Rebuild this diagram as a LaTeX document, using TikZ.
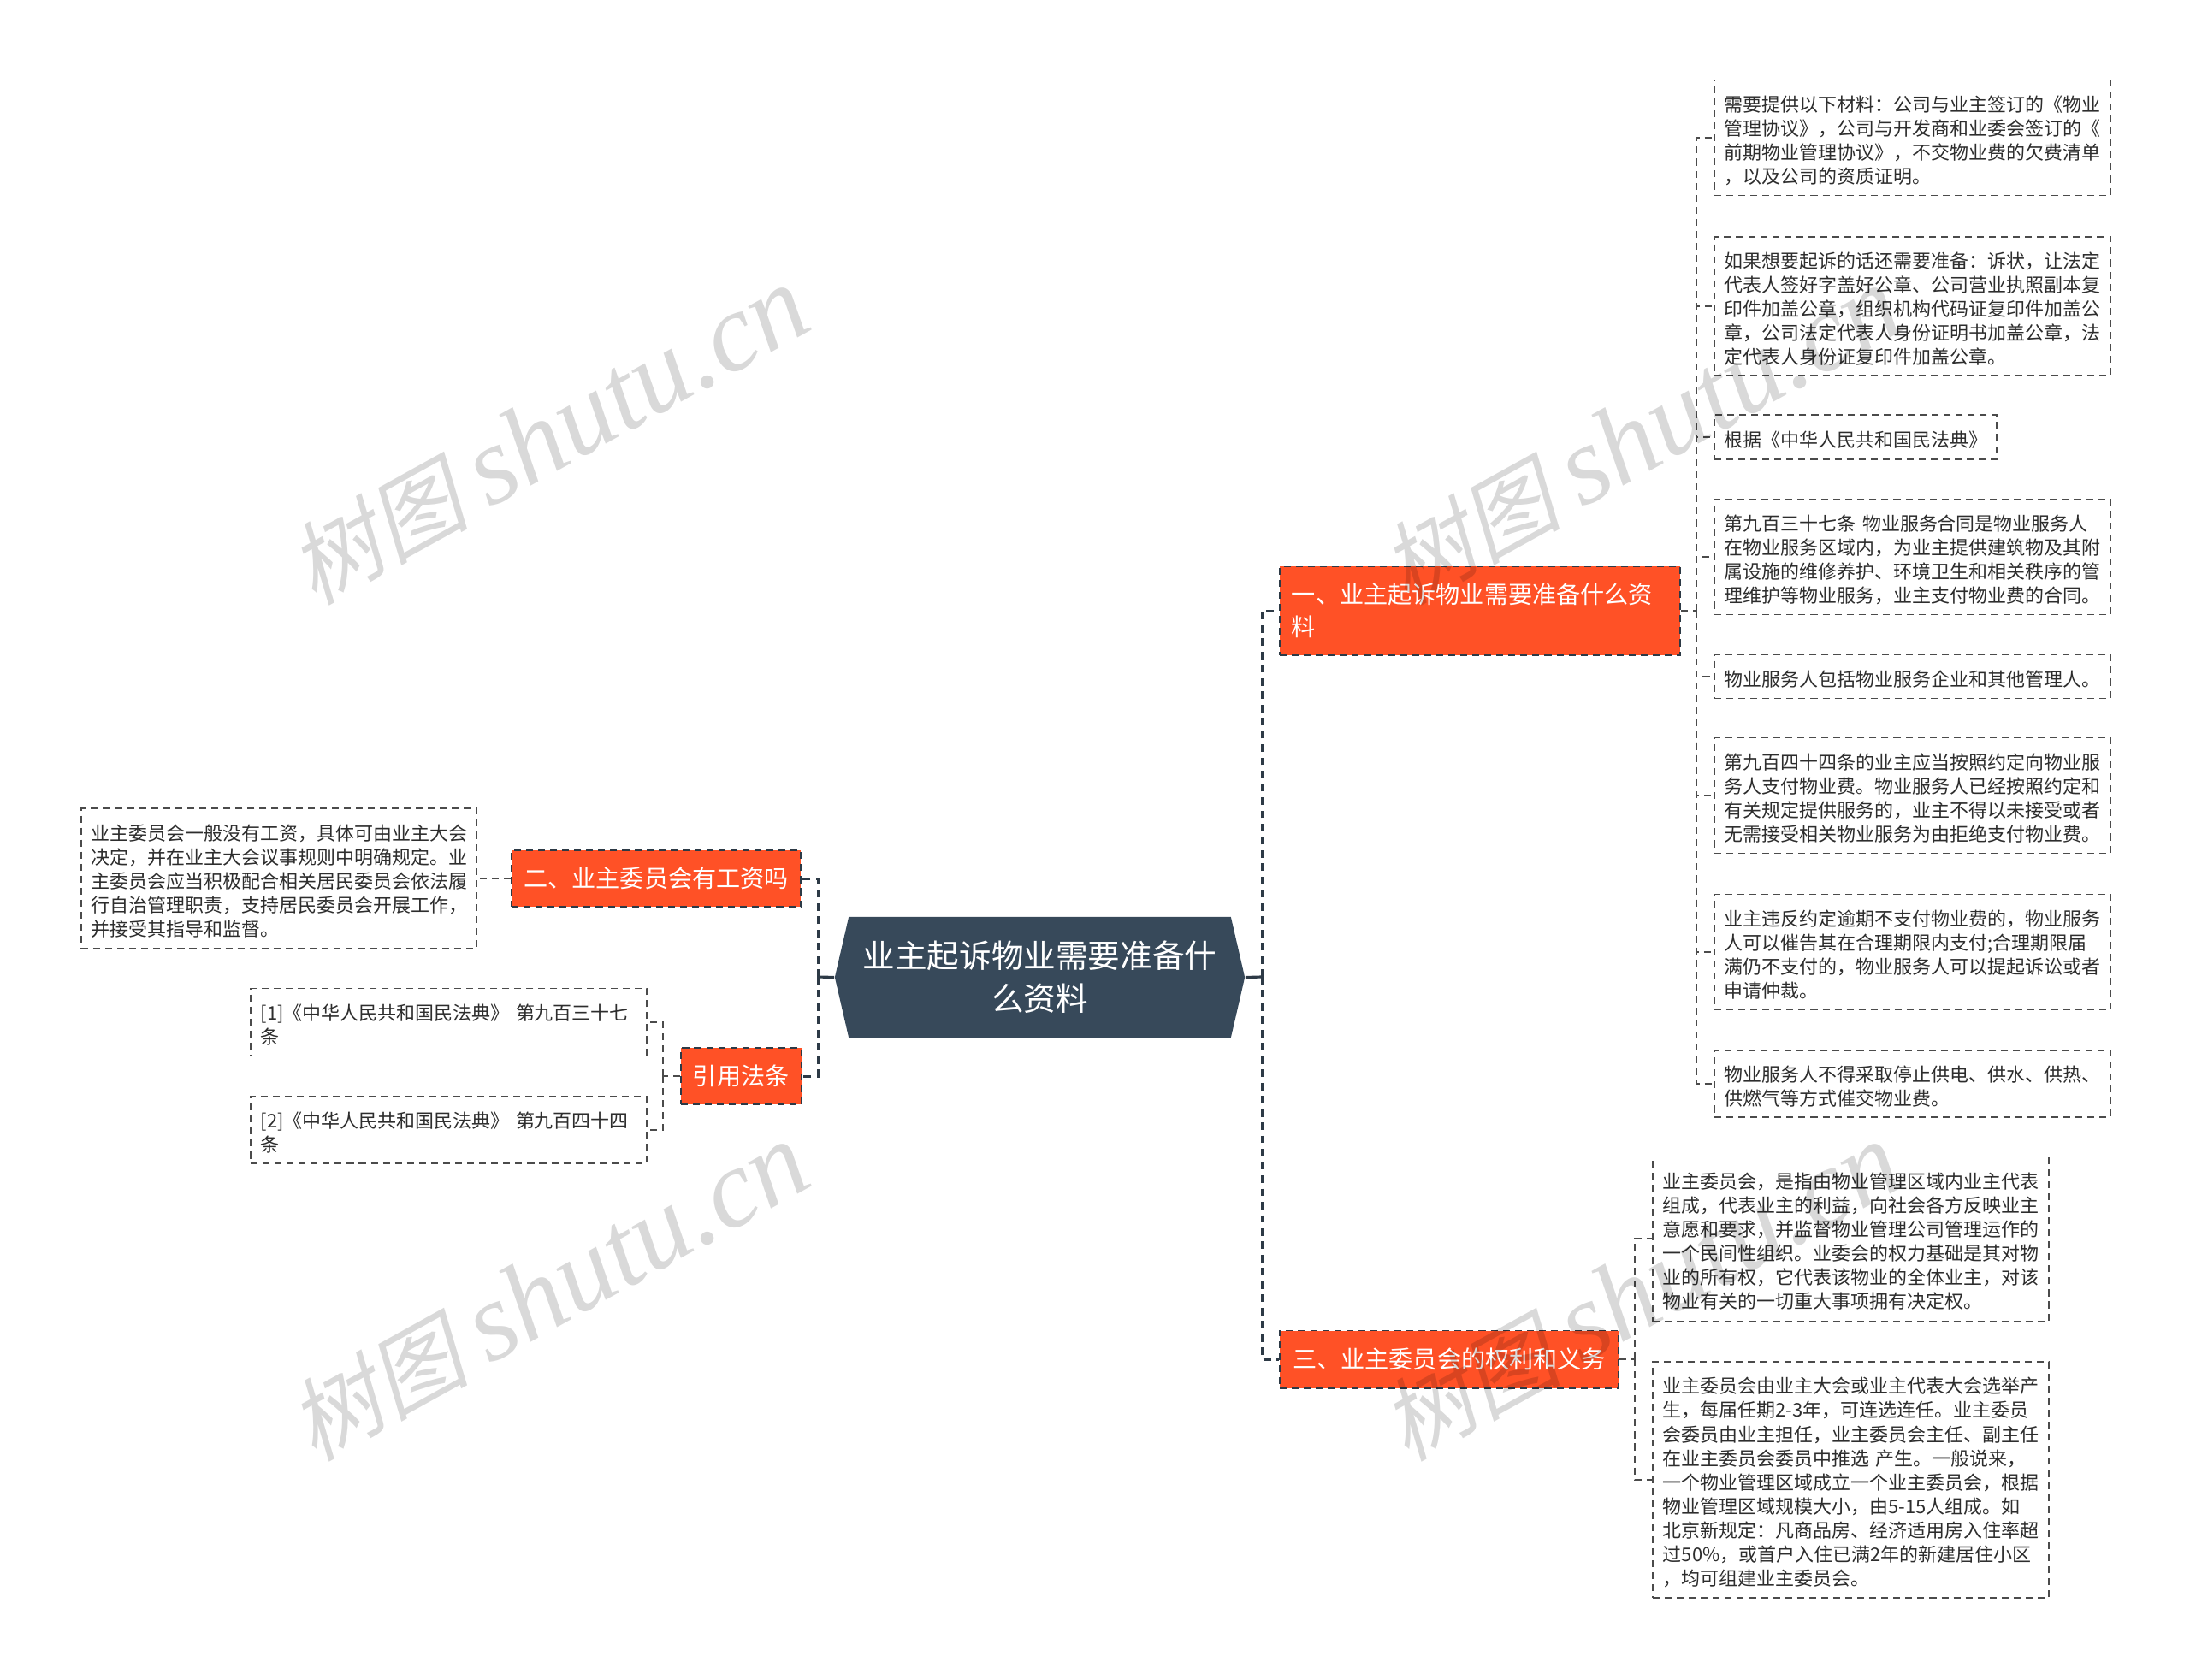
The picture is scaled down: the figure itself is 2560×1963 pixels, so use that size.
\documentclass[tikz,border=0pt]{standalone}
\usepackage{fontspec}
\setmainfont{Noto Sans CJK SC}
\newfontfamily\markcjk[FakeSlant=.22]{Noto Sans CJK SC}
\newfontfamily\marklatin{Liberation Serif}
\definecolor{rootfill}{RGB}{55, 73, 90}
\definecolor{branchfill}{RGB}{255, 81, 38}
\definecolor{linecolour}{RGB}{45, 58, 70}
\definecolor{factline}{RGB}{75, 75, 75}
\definecolor{facttext}{RGB}{45, 45, 45}
\usetikzlibrary{shapes.symbols}
\tikzset{
    rootbox/.style={signal, signal to=east and west, signal pointer angle=154,
        fill=rootfill, text=white, inner sep=0pt, minimum width=4.79cm,
        minimum height=1.41cm, align=center,
        font=\fontsize{10.7}{14.2}\selectfont},
    branchbox/.style={draw=linecolour, fill=branchfill, text=white, line width=.55pt,
        dash pattern=on 2.3pt off 1.7pt, anchor=west, inner xsep=.14cm,
        inner ysep=0pt, align=left, font=\fontsize{8}{10.9}\selectfont},
    factbox/.style={draw=factline, line width=.5pt, dash pattern=on 2.3pt off 1.7pt,
        anchor=west, inner xsep=.12cm, inner ysep=0pt, align=left, text=facttext,
        execute at begin node={\rule{0pt}{7.1pt}},
        font=\fontsize{6.25}{8}\selectfont},
    stemlink/.style={draw=linecolour, line width=.9pt},
    branchlink/.style={draw=linecolour, line width=.85pt, dash pattern=on 2.5pt off 1.9pt},
    factlink/.style={draw=factline, line width=.5pt, dash pattern=on 2.3pt off 1.7pt},
}

\begin{document}
\begin{tikzpicture}[x=.01cm, y=-.01cm]
    \useasboundingbox (0, 0) rectangle (2560, 1963);
    \node[rootbox] (root) at (1215.5, 1142.5) {业主起诉物业需要准备什\\么资料};

    \coordinate (busright) at (1475, 1142);
    \coordinate (busleft) at (956, 1142);
    \coordinate (busone) at (1983, 714);
    \coordinate (busthree) at (1911, 1589);
    \coordinate (buscite) at (775, 1258);

    \node[branchbox, minimum width=4.68cm, minimum height=1.03cm, text width=4.4cm]
        (branchone) at (1495, 714) {一、业主起诉物业需要准备什么资\\料};
    \node[branchbox, minimum width=3.96cm, minimum height=.67cm] (branchthree)
        at (1495, 1589) {三、业主委员会的权利和义务};
    \node[branchbox, minimum width=3.38cm, minimum height=.66cm] (branchtwo)
        at (597, 1027) {二、业主委员会有工资吗};
    \node[branchbox, minimum width=1.4cm, minimum height=.66cm] (branchcite)
        at (795, 1258) {引用法条};

    \node[factbox, minimum height=1.35cm, text width=4.39cm] (factone) at (2003, 161)
        {需要提供以下材料：公司与业主签订的《物业\\管理协议》，公司与开发商和业委会签订的《\\前期物业管理协议》，不交物业费的欠费清单\\，以及公司的资质证明。};
    \node[factbox, minimum height=1.62cm, text width=4.39cm] (facttwo) at (2003, 358)
        {如果想要起诉的话还需要准备：诉状，让法定\\代表人签好字盖好公章、公司营业执照副本复\\印件加盖公章，组织机构代码证复印件加盖公\\章，公司法定代表人身份证明书加盖公章，法\\定代表人身份证复印件加盖公章。};
    \node[factbox, minimum height=.52cm, text width=3.06cm] (factthree) at (2003, 511)
        {根据《中华人民共和国民法典》};
    \node[factbox, minimum height=1.35cm, text width=4.39cm] (factfour) at (2003, 651)
        {第九百三十七条 物业服务合同是物业服务人\\在物业服务区域内，为业主提供建筑物及其附\\属设施的维修养护、环境卫生和相关秩序的管\\理维护等物业服务，业主支付物业费的合同。};
    \node[factbox, minimum height=.51cm, text width=4.39cm] (factfive) at (2003, 791)
        {物业服务人包括物业服务企业和其他管理人。};
    \node[factbox, minimum height=1.35cm, text width=4.39cm] (factsix) at (2003, 930)
        {第九百四十四条的业主应当按照约定向物业服\\务人支付物业费。物业服务人已经按照约定和\\有关规定提供服务的，业主不得以未接受或者\\无需接受相关物业服务为由拒绝支付物业费。};
    \node[factbox, minimum height=1.35cm, text width=4.39cm] (factseven) at (2003, 1113)
        {业主违反约定逾期不支付物业费的，物业服务\\人可以催告其在合理期限内支付;合理期限届\\满仍不支付的，物业服务人可以提起诉讼或者\\申请仲裁。};
    \node[factbox, minimum height=.78cm, text width=4.39cm] (facteight) at (2003, 1267)
        {物业服务人不得采取停止供电、供水、供热、\\供燃气等方式催交物业费。};

    \node[factbox, minimum height=1.93cm, text width=4.39cm] (rightsone) at (1931, 1448)
        {业主委员会，是指由物业管理区域内业主代表\\组成，代表业主的利益，向社会各方反映业主\\意愿和要求，并监督物业管理公司管理运作的\\一个民间性组织。业委会的权力基础是其对物\\业的所有权，它代表该物业的全体业主，对该\\物业有关的一切重大事项拥有决定权。};
    \node[factbox, minimum height=2.76cm, text width=4.39cm] (rightstwo) at (1931, 1730)
        {业主委员会由业主大会或业主代表大会选举产\\生，每届任期2-3年，可连选连任。业主委员\\会委员由业主担任，业主委员会主任、副主任\\在业主委员会委员中推选 产生。一般说来，\\一个物业管理区域成立一个业主委员会，根据\\物业管理区域规模大小，由5-15人组成。如\\北京新规定：凡商品房、经济适用房入住率超\\过50\%，或首户入住已满2年的新建居住小区\\，均可组建业主委员会。};

    \node[factbox, minimum height=1.64cm, text width=4.38cm] (wagefact) at (94, 1027)
        {业主委员会一般没有工资，具体可由业主大会\\决定，并在业主大会议事规则中明确规定。业\\主委员会应当积极配合相关居民委员会依法履\\行自治管理职责，支持居民委员会开展工作，\\并接受其指导和监督。};
    \node[factbox, minimum height=.79cm, text width=4.39cm] (citeone) at (292, 1195)
        {[1]《中华人民共和国民法典》 第九百三十七\\条};
    \node[factbox, minimum height=.78cm, text width=4.39cm] (citetwo) at (292, 1321)
        {[2]《中华人民共和国民法典》 第九百四十四\\条};

    \draw[stemlink] (root.east) -- (busright);
    \draw[stemlink] (root.west) -- (busleft);
    \foreach \branch in {branchone, branchthree}
        \draw[branchlink] (busright) |- (\branch.west);
    \foreach \branch in {branchtwo, branchcite}
        \draw[branchlink] (busleft) |- (\branch.east);

    \draw[factlink] (branchone.east) -- (busone);
    \foreach \fact in {factone, facttwo, factthree, factfour, factfive, factsix,
            factseven, facteight}
        \draw[factlink] (busone) |- (\fact.west);
    \draw[factlink] (branchthree.east) -- (busthree);
    \foreach \fact in {rightsone, rightstwo}
        \draw[factlink] (busthree) |- (\fact.west);
    \draw[factlink] (branchtwo.west) -- (wagefact.east);
    \draw[factlink] (branchcite.west) -- (buscite);
    \foreach \fact in {citeone, citetwo}
        \draw[factlink] (buscite) |- (\fact.east);

    % watermark sits over everything
    \foreach \xmark/\ymark/\idmark in {641/510/a, 1918/510/b, 641/1511/c, 1918/1511/d}
        \node[rotate=29, text=black, text opacity=.15, inner sep=0pt] (mark\idmark)
            at (\xmark, \ymark) {\fontsize{30}{30}\selectfont\markcjk 树图
            \fontsize{37}{37}\selectfont\marklatin\itshape shutu.cn};
\end{tikzpicture}
\end{document}
